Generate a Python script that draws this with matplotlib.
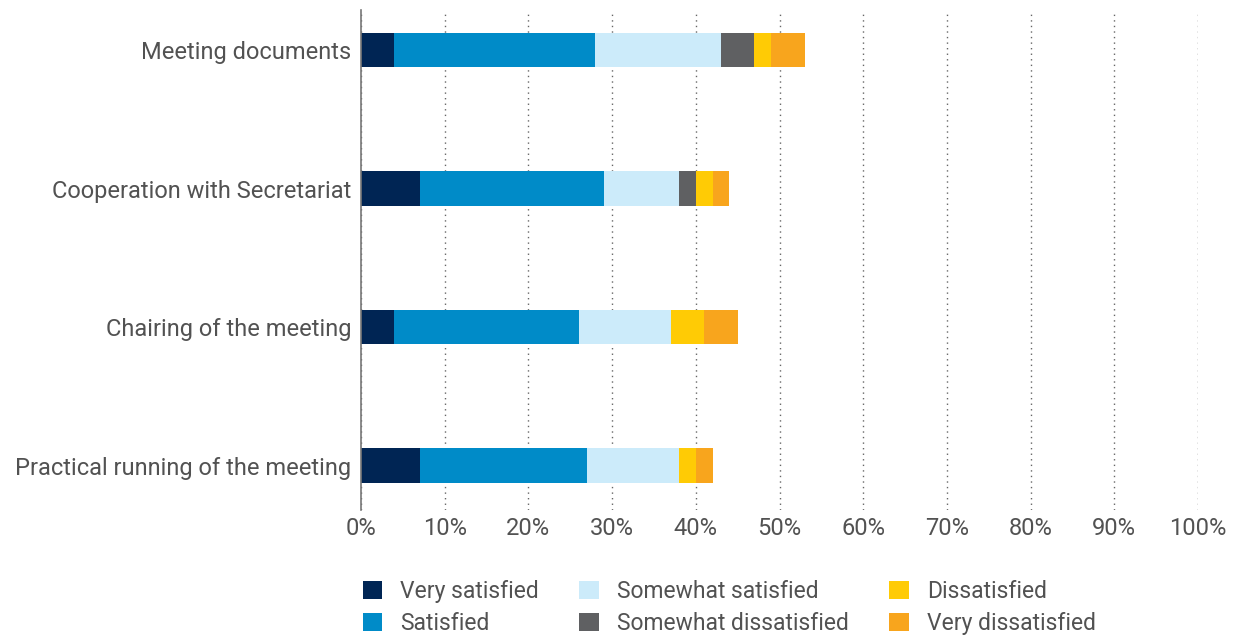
import numpy as np
import matplotlib.pyplot as plt
from matplotlib.ticker import FuncFormatter

plt.rcParams['font.family'] = ['Roboto', 'DejaVu Sans']

# data (percent of respondents)
categories = ["Meeting documents", "Cooperation with Secretariat",
              "Chairing of the meeting", "Practical running of the meeting"]
series = ["Very satisfied", "Satisfied", "Somewhat satisfied",
          "Somewhat dissatisfied", "Dissatisfied", "Very dissatisfied"]
very_satisfied = [4, 7, 4, 7]
satisfied = [24, 22, 22, 20]
somewhat_satisfied = [15, 9, 11, 11]
somewhat_dissatisfied = [4, 2, 0, 0]
dissatisfied = [2, 2, 4, 2]
very_dissatisfied = [4, 2, 4, 2]
xticks = np.arange(0, 101, 10)

colors = ["#002554", "#008BC8", "#CCEBFA", "#5F6062", "#FFCB05", "#F8A51D"]
values = [very_satisfied, satisfied, somewhat_satisfied,
          somewhat_dissatisfied, dissatisfied, very_dissatisfied]
txt = "#525252"

fig = plt.figure(figsize=(12.41, 6.35), dpi=100)
ax = fig.add_axes([361/1241, 1 - 510/635, 837/1241, 500/635])

y = np.arange(len(categories))
left = np.zeros(len(categories))
handles = []
for name, vals, c in zip(series, values, colors):
    vals = np.array(vals, dtype=float)
    h = ax.barh(y, vals, left=left, height=0.25, color=c, label=name, linewidth=0)
    handles.append(h)
    left += vals

ax.set_ylim(3.32, -0.29)
ax.set_xlim(0, 100)
ax.set_yticks(y)
ax.set_yticklabels(categories)
ax.set_xticks(xticks)
ax.xaxis.set_major_formatter(FuncFormatter(lambda v, p: f"{int(v)}%"))
ax.tick_params(axis='both', length=0, labelsize=17, labelcolor=txt)
ax.tick_params(axis='x', pad=5)
ax.tick_params(axis='y', pad=7)
ax.grid(axis='x', linestyle=(0, (1, 3)), color="#666666", linewidth=1)
ax.set_axisbelow(True)
for s in ['top', 'right', 'bottom']:
    ax.spines[s].set_visible(False)
ax.spines['left'].set_color("#777777")
ax.spines['left'].set_linewidth(1.2)

leg = fig.legend(handles=handles, loc='upper left', ncol=3,
                 bbox_to_anchor=(342/1241, 1 - 559/635), frameon=False,
                 fontsize=16.5, handlelength=0.85, handleheight=0.85,
                 handletextpad=0.8, columnspacing=1.75, labelspacing=0.4,
                 labelcolor=txt)

fig.savefig("out.png", dpi=100)
